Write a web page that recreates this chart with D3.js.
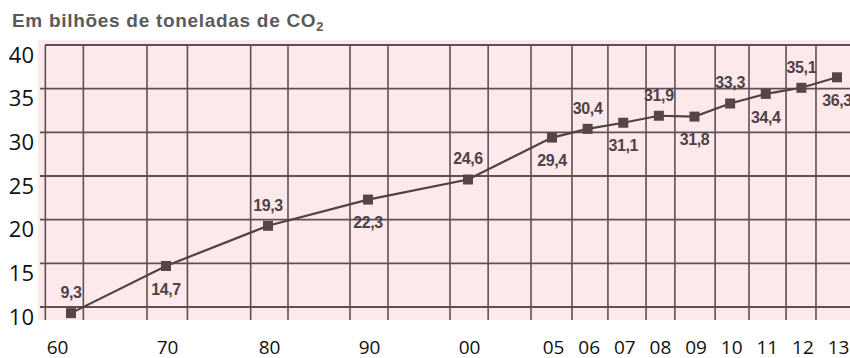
<!DOCTYPE html>
<html>
<head>
<meta charset="utf-8">
<script src="https://cdn.jsdelivr.net/npm/d3@7"></script>
<style>
  html, body { margin: 0; padding: 0; background: #ffffff; }
  svg { display: block; }
</style>
</head>
<body>
<svg id="chart" width="850" height="358"></svg>
<script>
// ---- data ----
const years = [1960, 1970, 1980, 1990, 2000, 2005, 2006, 2007, 2008, 2009, 2010, 2011, 2012, 2013];
const emissions = [9.3, 14.7, 19.3, 22.3, 24.6, 29.4, 30.4, 31.1, 31.9, 31.8, 33.3, 34.4, 35.1, 36.3];
const valueLabels = ["9,3", "14,7", "19,3", "22,3", "24,6", "29,4", "30,4", "31,1", "31,9", "31,8", "33,3", "34,4", "35,1", "36,3"];
const xTickLabels = ["60", "70", "80", "90", "00", "05", "06", "07", "08", "09", "10", "11", "12", "13"];
const yTicks = [10, 15, 20, 25, 30, 35, 40];
// paper grid (vertical lines of the scanned graph paper), in year units
const gridYears = [1957.3, 1961.3, 1968.0, 1972.1, 1978.3, 1982.0, 1988.2, 1992.0, 1998.2, 2001.2, 2003.75,
                   2005.56, 2006.57, 2007.64, 2008.45, 2009.58, 2010.53, 2011.57, 2012.41];
const title = "Em bilhões de toneladas de CO";

// ---- setup ----
const svg = d3.select("#chart");
const W = 850, H = 358;
const plotTop = 45, plotBottom = 320, bgLeft = 38, bgTop = 40;

const x = d3.scaleLinear()
  .domain([1960, 1970, 1980, 1990, 2000, 2005, 2013])
  .range([71, 166, 268, 368, 468, 552, 837]);
const y = d3.scaleLinear().domain([10, 40]).range([307, 45]);

const gridColor = "#5e5053";
const inkColor = "#4f4144";
const sansBold = "'Liberation Sans', Arial, Helvetica, sans-serif";

// background
svg.append("rect").attr("x", 0).attr("y", 0).attr("width", W).attr("height", H).attr("fill", "#ffffff");
svg.append("rect")
  .attr("x", bgLeft).attr("y", bgTop)
  .attr("width", W - bgLeft).attr("height", plotBottom - bgTop)
  .attr("fill", "#fce9eb");

// title
const t = svg.append("text")
  .attr("x", 12).attr("y", 27)
  .style("font-family", sansBold)
  .style("font-weight", "bold")
  .style("font-size", "19px")
  .style("letter-spacing", "0.7px")
  .attr("fill", "#5a5a5a")
  .text(title);
t.append("tspan").style("font-size", "13px").attr("dy", 4).text("2");

// horizontal grid
svg.append("g").selectAll("line")
  .data(yTicks)
  .join("line")
  .attr("x1", d => d === 40 ? 45 : 40).attr("x2", W)
  .attr("y1", d => y(d)).attr("y2", d => y(d))
  .attr("stroke", gridColor)
  .attr("stroke-width", d => d === 40 ? 2.2 : 1.8);

// vertical grid
svg.append("g").selectAll("line")
  .data(gridYears)
  .join("line")
  .attr("x1", d => x(d)).attr("x2", d => x(d))
  .attr("y1", plotTop).attr("y2", plotBottom)
  .attr("stroke", gridColor)
  .attr("stroke-width", 1.6);

// y axis labels (offset below their grid lines as in the scan)
const yAxis = d3.axisLeft(y).tickValues(yTicks).tickSize(0).tickPadding(0).tickFormat(d3.format("d"));
const gy = svg.append("g").attr("transform", "translate(34,10)").call(yAxis);
gy.select(".domain").remove();
gy.selectAll("text")
  .style("font-family", "'Open Sans', sans-serif")
  .style("font-size", "22px")
  .attr("fill", "#111");

// x axis labels
const xAxis = d3.axisBottom(x).tickValues(years).tickSize(0).tickPadding(0)
  .tickFormat((d, i) => xTickLabels[i]);
const gx = svg.append("g").attr("transform", "translate(0,340)").call(xAxis);
gx.select(".domain").remove();
gx.selectAll("text")
  .style("font-family", "'Open Sans', sans-serif")
  .style("font-size", "19px")
  .attr("fill", "#111")
  .attr("dx", (d, i) => i === 0 ? -14 : 1);

// line
const pts = years.map((yr, i) => ({ yr, v: emissions[i], lab: valueLabels[i], i }));
svg.append("path")
  .datum(pts)
  .attr("d", d3.line().x(d => x(d.yr)).y(d => y(d.v)))
  .attr("fill", "none")
  .attr("stroke", inkColor)
  .attr("stroke-width", 2.2);

// markers
const ms = 10;
svg.append("g").selectAll("rect")
  .data(pts)
  .join("rect")
  .attr("x", d => x(d.yr) - ms / 2)
  .attr("y", d => y(d.v) - ms / 2)
  .attr("width", ms).attr("height", ms)
  .attr("fill", "#564649");

// value labels: alternate above / below
svg.append("g").selectAll("text")
  .data(pts)
  .join("text")
  .attr("x", d => x(d.yr))
  .attr("y", d => y(d.v) + (d.i % 2 === 0 ? -21 : 23))
  .attr("dy", "0.36em")
  .attr("text-anchor", "middle")
  .style("font-family", sansBold)
  .style("font-weight", "bold")
  .style("font-size", "16px")
  .style("letter-spacing", "-0.4px")
  .attr("fill", "#4e4245")
  .text(d => d.lab);
</script>
</body>
</html>
